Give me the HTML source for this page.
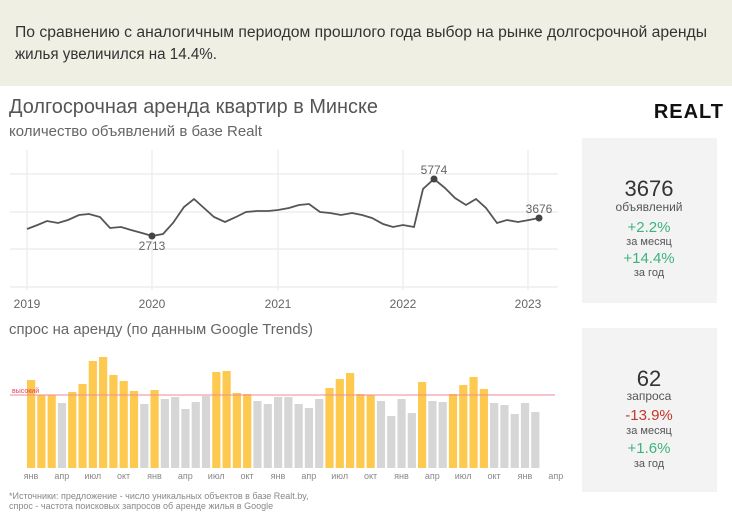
<!DOCTYPE html>
<html><head><meta charset="utf-8">
<style>
html,body{margin:0;padding:0;background:#fff;width:732px;height:519px;overflow:hidden;font-family:"Liberation Sans","DejaVu Sans",sans-serif;}
svg text{font-family:"Liberation Sans","DejaVu Sans",sans-serif;}
</style></head><body>
<svg id="s" width="732" height="519" viewBox="0 0 732 519" xmlns="http://www.w3.org/2000/svg">
<rect x="0" y="0" width="732" height="86" fill="#f0efe4"/>
<text x="15" y="37" font-size="15.5" fill="#333" textLength="692" lengthAdjust="spacingAndGlyphs">По сравнению с аналогичным периодом прошлого года выбор на рынке долгосрочной аренды</text>
<text x="15" y="59" font-size="15.5" fill="#333" textLength="202" lengthAdjust="spacingAndGlyphs">жилья увеличился на 14.4%.</text>
<text x="9" y="113" font-size="20" fill="#555" textLength="369" lengthAdjust="spacingAndGlyphs">Долгосрочная аренда квартир в Минске</text>
<text x="9" y="136" font-size="14.5" fill="#666" textLength="253" lengthAdjust="spacingAndGlyphs">количество объявлений в базе Realt</text>
<text x="724" y="118" font-size="20" font-weight="bold" fill="#111" text-anchor="end" letter-spacing="1">REALT</text>
<rect x="582" y="138" width="135" height="165" fill="#f4f3f4"/>
<rect x="582" y="328" width="135" height="164" fill="#f4f3f4"/>
<g text-anchor="middle">
<text x="649" y="196" font-size="22" fill="#333">3676</text>
<text x="649" y="211" font-size="12" fill="#555">объявлений</text>
<text x="649" y="232" font-size="15" fill="#3cb37f">+2.2%</text>
<text x="649" y="245" font-size="11" fill="#555">за месяц</text>
<text x="649" y="263" font-size="15" fill="#3cb37f">+14.4%</text>
<text x="649" y="276" font-size="11" fill="#555">за год</text>
<text x="649" y="386" font-size="22" fill="#333">62</text>
<text x="649" y="400" font-size="12" fill="#555">запроса</text>
<text x="649" y="420" font-size="15" fill="#c0392b">-13.9%</text>
<text x="649" y="434" font-size="11" fill="#555">за месяц</text>
<text x="649" y="453" font-size="15" fill="#3cb37f">+1.6%</text>
<text x="649" y="467" font-size="11" fill="#555">за год</text>
</g>
<g stroke="#ebebeb" stroke-width="1.2">
<line x1="10" y1="174" x2="558" y2="174"/><line x1="10" y1="212" x2="558" y2="212"/>
<line x1="10" y1="249" x2="558" y2="249"/><line x1="10" y1="287" x2="558" y2="287"/>
<line x1="27" y1="150" x2="27" y2="290"/><line x1="152" y1="150" x2="152" y2="290"/>
<line x1="278" y1="150" x2="278" y2="290"/><line x1="403" y1="150" x2="403" y2="290"/>
<line x1="528" y1="150" x2="528" y2="290"/>
</g>
<g font-size="12" fill="#666" text-anchor="middle">
<text x="27" y="308">2019</text><text x="152" y="308">2020</text><text x="278" y="308">2021</text><text x="403" y="308">2022</text><text x="528" y="308">2023</text>
</g>
<polyline fill="none" stroke="#555" stroke-width="1.8" points="27,229 37.5,225 47,221 58,223 68,220 79,215 89,214 100,217 110,228 121,227 131,230 142,233 152,236 163,234 173,223 184,207 194,199 204,208 214,217 225,222 236,217 246,212 257,211 268,211 278,210 289,208 299,205 309,204 320,212 330,213 341,215 352,213 362,215 372,218 383,224 393,227 403,225 414,227 423,189 434,179 445,188 455,198 466,205 476,199 486,208 497,223 507,220 518,222 529,220 539,218"/>
<circle cx="152" cy="236" r="3.5" fill="#444"/><circle cx="434" cy="179" r="3.5" fill="#444"/><circle cx="539" cy="218" r="3.5" fill="#444"/>
<g font-size="12" fill="#666" text-anchor="middle">
<text x="152" y="250">2713</text><text x="434" y="174">5774</text><text x="539" y="213">3676</text>
</g>
<text x="9" y="334" font-size="14.5" fill="#666" textLength="304" lengthAdjust="spacingAndGlyphs">спрос на аренду (по данным Google Trends)</text>
<g id="bars"></g>
<line x1="10" y1="395" x2="555" y2="395" stroke="#f08a9a" stroke-width="1"/>
<text x="12" y="393" font-size="7" fill="#e0405a">высокий</text>
<g font-size="9" fill="#888" text-anchor="middle" id="mon"></g>
<text x="9" y="499" font-size="9" fill="#888">*Источники: предложение - число уникальных объектов в базе Realt.by,</text>
<text x="9" y="509" font-size="9" fill="#888">спрос - частота поисковых запросов об аренде жилья в Google</text>
</svg>
<script>
var tops=[380,395,395,403,392,384,361,357,375,381,391,404,390,399,397,409,402,396,372,371,393,394,401,404,397,397,404,408,399,388,379,373,394,395,401,416,399,413,382,401,402,394,385,377,389,403,405,414,403,412];
var y="YYYGYYYYYYYGYGGGGGYYYYGGGGGGGYYYYYGGGGYGGYYYYGGGGG";
var ns="http://www.w3.org/2000/svg",g=document.getElementById("bars"),m=document.getElementById("mon");
for(var i=0;i<50;i++){var r=document.createElementNS(ns,"rect");var x=27+i*10.29;
r.setAttribute("x",x);r.setAttribute("y",tops[i]);r.setAttribute("width",8.2);r.setAttribute("height",468-tops[i]);
r.setAttribute("fill",y[i]=="Y"?"#fdc94f":"#d6d6d6");g.appendChild(r);}
var names=["янв","апр","июл","окт"];
for(var k=0;k<18;k++){var t=document.createElementNS(ns,"text");t.setAttribute("x",31+k*30.87);t.setAttribute("y",479);t.textContent=names[k%4];m.appendChild(t);}
</script>
</body></html>
